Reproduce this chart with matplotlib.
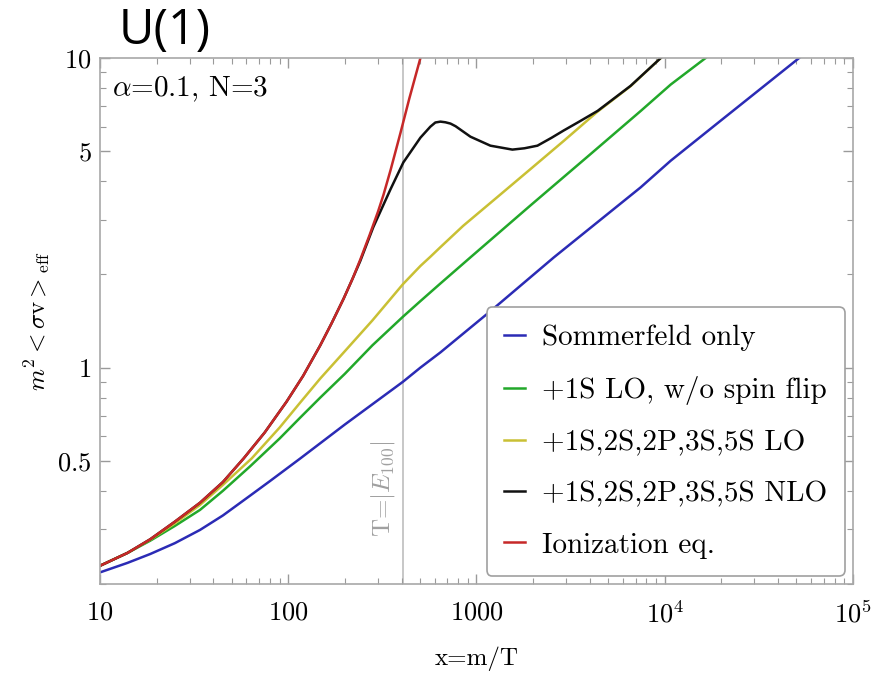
import matplotlib
matplotlib.use("Agg")
import matplotlib.pyplot as plt
from matplotlib.ticker import LogLocator, NullFormatter, FixedLocator, FixedFormatter

plt.rcParams['mathtext.fontset'] = 'cm'
plt.rcParams['font.family'] = ['cmr10', 'DejaVu Serif']
plt.rcParams['axes.formatter.use_mathtext'] = True

# ---- data ----
x_som = [10, 14, 18.5, 25, 34, 45, 62.8, 80, 116, 200, 363, 407, 504, 644, 1200, 2578,
         7450, 10770, 20000, 51800]
y_som = [0.218, 0.234, 0.250, 0.271, 0.299, 0.333, 0.386, 0.430, 0.509, 0.655, 0.855,
         0.90, 1.0, 1.12, 1.53, 2.27, 3.82, 4.66, 6.3, 10]

x_1s = [10, 14, 18.5, 25, 34, 45, 62.8, 90, 116, 148, 200, 280, 407, 504, 644, 929,
        1936, 4000, 7450, 10770, 16500]
y_1s = [0.229, 0.252, 0.276, 0.308, 0.347, 0.40, 0.48, 0.59, 0.69, 0.80, 0.955, 1.18,
        1.46, 1.64, 1.87, 2.27, 3.34, 4.87, 6.74, 8.21, 10]

x_lo = [10, 14, 18.5, 25, 34, 45, 64, 90, 116, 148, 200, 280, 407, 504, 569, 644, 850,
        1288, 2000, 2911, 4385, 6590, 9530]
y_lo = [0.229, 0.252, 0.278, 0.314, 0.360, 0.418, 0.509, 0.64, 0.772, 0.922, 1.13, 1.42,
        1.86, 2.13, 2.28, 2.45, 2.87, 3.55, 4.45, 5.40, 6.70, 8.11, 10]

x_nlo = [10, 14, 18.5, 25, 34, 45, 58, 75, 98, 120, 148, 170, 197, 220, 241.5, 283, 349,
         409, 504, 569, 605, 644, 684, 728, 775, 822, 929, 1186, 1552, 1800, 2109, 2500,
         2904, 3500, 4406, 6590, 9530]
y_nlo = [0.229, 0.252, 0.279, 0.318, 0.366, 0.427, 0.509, 0.617, 0.776, 0.94, 1.18, 1.39,
         1.67, 1.94, 2.21, 2.84, 3.76, 4.60, 5.53, 6.00, 6.19, 6.23, 6.20, 6.14, 6.02, 5.87,
         5.57, 5.21, 5.06, 5.11, 5.21, 5.52, 5.83, 6.22, 6.75, 8.13, 10]

x_ion = [10, 14, 18.5, 25, 34, 45, 58, 75, 98, 120, 148, 170, 197, 220, 242, 270, 300,
         321, 350, 394, 440, 504]
y_ion = [0.229, 0.252, 0.279, 0.318, 0.366, 0.427, 0.509, 0.617, 0.776, 0.94, 1.18, 1.39,
         1.67, 1.94, 2.24, 2.67, 3.19, 3.62, 4.35, 5.70, 7.4, 10]

labels = ["Sommerfeld only", "+1S LO, w/o spin flip", "+1S,2S,2P,3S,5S LO",
          "+1S,2S,2P,3S,5S NLO", "Ionization eq."]
colors = ["#2b2bb5", "#22a82a", "#c9c034", "#111111", "#c62828"]

x_E100 = 405
xticks = [10, 100, 1000, 1e4, 1e5]
xticklabels = [r"$10$", r"$100$", r"$1000$", r"$10^{4}$", r"$10^{5}$"]
yticks = [0.5, 1, 5, 10]
yticklabels = [r"$0.5$", r"$1$", r"$5$", r"$10$"]

# ---- figure ----
fig = plt.figure(figsize=(8.73, 6.84), dpi=100)
ax = fig.add_axes([0.1145, 0.1462, 0.8625, 0.769])

series = [(x_som, y_som), (x_1s, y_1s), (x_lo, y_lo), (x_nlo, y_nlo), (x_ion, y_ion)]
for (xs, ys), lab, c in zip(series, labels, colors):
    ax.plot(xs, ys, color=c, lw=1.8, label=lab, solid_joinstyle='round')

ax.axvline(x_E100, color="#bdbdbd", lw=1.2, zorder=0)
ax.text(x_E100 * 0.93, 0.405, r"T=$|E_{100}|$", rotation=90, color="#a0a0a0",
        fontsize=18, ha='right', va='center')

ax.set_xscale('log')
ax.set_yscale('log')
ax.set_xlim(10, 1e5)
ax.set_ylim(0.2, 10)

ax.xaxis.set_major_locator(FixedLocator(xticks))
ax.xaxis.set_major_formatter(FixedFormatter(xticklabels))
ax.xaxis.set_minor_locator(LogLocator(base=10, subs=range(2, 10), numticks=20))
ax.xaxis.set_minor_formatter(NullFormatter())
ax.yaxis.set_major_locator(FixedLocator(yticks))
ax.yaxis.set_major_formatter(FixedFormatter(yticklabels))
ax.yaxis.set_minor_locator(LogLocator(base=10, subs=range(2, 10), numticks=20))
ax.yaxis.set_minor_formatter(NullFormatter())

ax.tick_params(which='both', direction='in', top=True, right=True, color='#9a9a9a')
ax.tick_params(which='major', length=7, width=1.0, labelsize=19, pad=12)
ax.tick_params(which='minor', length=4, width=0.8)
ax.tick_params(axis='y', which='major', pad=6)
for s in ax.spines.values():
    s.set_color('#a8a8a8')
    s.set_linewidth(1.2)

ax.set_xlabel(r"x=m/T", fontsize=18, labelpad=14)
fig.text(37 / 873, 1 - 321 / 684, r"$m^2<\sigma\mathrm{v}>_{\mathrm{eff}}$", fontsize=18,
         rotation=90, ha='center', va='center')

ax.text(0.016, 0.968, r"$\alpha$=0.1, N=3", transform=ax.transAxes, fontsize=21,
        ha='left', va='top')

leg = ax.legend(loc='lower right', bbox_to_anchor=(0.989, 0.015), fontsize=21,
                handlelength=0.7, handletextpad=0.6, labelspacing=0.85,
                borderpad=0.6, borderaxespad=0, fancybox=True, framealpha=1,
                edgecolor='#a0a0a0')
leg.get_frame().set_linewidth(1.2)

fig.text(165 / 873, 1 - 31 / 684, "U(1)", fontsize=35, family=['Open Sans', 'DejaVu Sans'],
         ha='center', va='center')

fig.savefig("out.png", dpi=100)
